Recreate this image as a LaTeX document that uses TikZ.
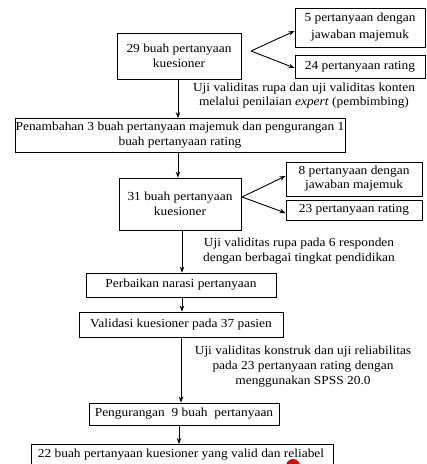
\documentclass[tikz,border=0pt]{standalone}
\usepackage{fontspec}
\setmainfont{Liberation Serif}[FakeStretch=1.09]
\usetikzlibrary{arrows.meta}
\begin{document}
\begin{tikzpicture}[x=1pt,y=-1pt,
 box/.style={draw, line width=0.8pt, align=center, inner sep=0pt, font=\fontsize{12.3}{15}\selectfont},
 lab/.style={align=center, inner sep=0pt, font=\fontsize{12.3}{14.8}\selectfont},
 arr/.style={-{Stealth[length=6pt,width=4.5pt]}, line width=0.9pt}]
\useasboundingbox (0,0) rectangle (427,464);
\clip (0,0) rectangle (427,464);
\fill[white] (0,0) rectangle (427,464);
% boxes
\node[box, minimum width=124pt, minimum height=46pt] (b1) at (179,56) {29 buah pertanyaan\\kuesioner};
\node[box, minimum width=130pt, minimum height=39pt, font=\fontsize{12.3}{17}\selectfont] (b5) at (360,27.5) {5 pertanyaan dengan\\jawaban majemuk};
\node[box, minimum width=130pt, minimum height=23pt] (b24) at (360,66.5) {24 pertanyaan rating};
\node[lab] (l1) at (304,95.5) {Uji validitas rupa dan uji validitas konten\\melalui penilaian \textit{expert} (pembimbing)};
\node[box, minimum width=330pt, minimum height=34pt] (pen) at (180,135.5) {Penambahan 3 buah pertanyaan majemuk dan pengurangan 1\\buah pertanyaan rating};
\node[box, minimum width=122pt, minimum height=52pt] (b31) at (180,204) {31 buah pertanyaan\\kuesioner};
\node[box, minimum width=136pt, minimum height=34pt, font=\fontsize{12.3}{14}\selectfont] (b8) at (354,179) {8 pertanyaan dengan\\jawaban majemuk};
\node[box, minimum width=136pt, minimum height=20pt] (b23) at (354,210) {23 pertanyaan rating};
\node[lab] (l2) at (299,251) {Uji validitas rupa pada 6 responden\\dengan berbagai tingkat pendidikan};
\node[box, minimum width=190pt, minimum height=24pt] (perb) at (181,285) {Perbaikan narasi pertanyaan};
\node[box, minimum width=204pt, minimum height=25pt] (val) at (181,324.5) {Validasi kuesioner pada 37 pasien};
\node[lab] (l3) at (303,366.5) {Uji validitas konstruk dan uji reliabilitas\\pada 23 pertanyaan rating dengan\\menggunakan SPSS 20.0};
\node[box, minimum width=190pt, minimum height=22pt] (peng) at (184,414) {Pengurangan~ 9 buah~ pertanyaan};
\node[box, minimum width=302pt, minimum height=30pt, anchor=north] (fin) at (182,444) {};
\node[lab] (fint) at (181,455) {22 buah pertanyaan kuesioner yang valid dan reliabel};
% connectors
\coordinate (s1) at (251,51);
\coordinate (s2) at (242,197);
\draw[arr] (s1) -- (b5.west |- 0,31);
\draw[arr] (s1) -- (b24.west |- 0,68);
\draw[arr] (s2) -- (b8.west |- 0,176);
\draw[arr] (s2) -- (b23.west |- 0,213);
\draw[arr] (b1.south -| 178,0) -- (pen.north -| 178,0);
\draw[arr] (pen.south -| 178,0) -- (b31.north -| 178,0);
\draw[arr] (b31.south -| 182,0) -- (perb.north -| 182,0);
\draw[arr] (perb.south -| 182,0) -- (val.north -| 182,0);
\draw[arr] (val.south -| 181,0) -- (peng.north -| 181,0);
\draw[arr] (peng.south -| 179,0) -- (fin.north -| 179,0);
% red mark
\fill[red!85!black] (293,466) circle (7);
\end{tikzpicture}
\end{document}
